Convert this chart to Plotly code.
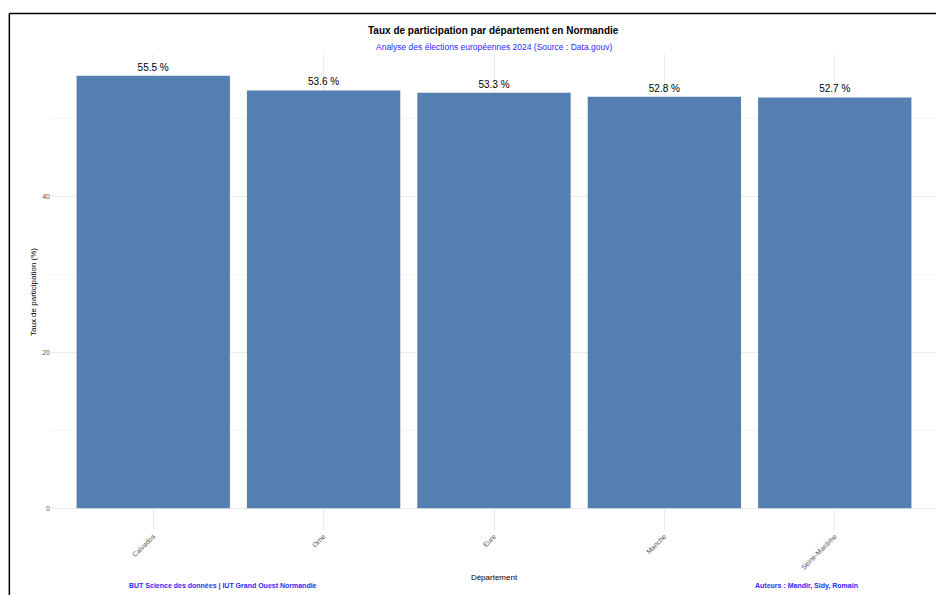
import plotly.graph_objects as go

# data
departements = ["Calvados", "Orne", "Eure", "Manche", "Seine-Maritime"]
taux = [55.5, 53.6, 53.3, 52.8, 52.7]

W, H = 944, 595
OFF = 8  # page body margin
# plot area in screen pixels
X0, X1, Y0, Y1 = 50.7, 937.5, 53.5, 529.6
L, R = X0 - OFF, W - (X1 - OFF)
T, B = Y0 - OFF, H - (Y1 - OFF)

def px_x(x):  # screen pixel -> paper x
    return (x - X0) / (X1 - X0)

def px_y(y):  # screen pixel -> paper y
    return (Y1 - y) / (Y1 - Y0)

FONT = "Liberation Sans, Arial, Helvetica, sans-serif"
BLUE = "#2a2aff"

fig = go.Figure()
fig.add_trace(go.Bar(
    x=departements, y=taux,
    width=0.9,
    marker=dict(color="#5480b1", line=dict(width=0)),
    text=[f"{v:.1f} %" for v in taux],
    textposition="outside",
    textfont=dict(size=10, color="black", family=FONT),
    cliponaxis=False,
))

fig.update_layout(
    width=W, height=H,
    margin=dict(l=L, r=R, t=T, b=B),
    plot_bgcolor="white", paper_bgcolor="white",
    font=dict(family=FONT),
    showlegend=False,
    bargap=0.1,
)

fig.update_xaxes(
    range=[-0.6, 4.6],
    tickangle=-45,
    tickfont=dict(size=7, color="#555555"),
    showgrid=True, gridcolor="#ebebeb", gridwidth=1,
    showline=False, zeroline=False, ticks="",
    title=dict(text="Département", font=dict(size=8, color="black"), standoff=4),
    automargin=False,
)
fig.update_yaxes(
    range=[-2.775, 58.275],
    tickvals=[0, 20, 40],
    tickfont=dict(size=7, color="#555555"),
    showgrid=True, gridcolor="#ebebeb", gridwidth=1,
    minor=dict(tickvals=[10, 30, 50], showgrid=True, gridcolor="#f4f4f4", gridwidth=1),
    zeroline=False, showline=False, ticks="",
    title=dict(text="Taux de participation (%)", font=dict(size=8, color="black"), standoff=4),
    automargin=False,
)

annotations = [
    dict(text="<b>Taux de participation par département en Normandie</b>",
         x=px_x(494), y=px_y(30), font=dict(size=10, color="black")),
    dict(text="Analyse des élections européennes 2024 (Source : Data.gouv)",
         x=px_x(494), y=px_y(46), font=dict(size=8.5, color=BLUE)),
    dict(text="<b>BUT Science des données | IUT Grand Ouest Normandie</b>",
         x=px_x(223), y=px_y(586), font=dict(size=7, color=BLUE)),
    dict(text="<b>Auteurs : Mandir, Sidy, Romain</b>",
         x=px_x(807), y=px_y(586), font=dict(size=7, color=BLUE)),
]
for a in annotations:
    fig.add_annotation(xref="paper", yref="paper", showarrow=False,
                       xanchor="center", yanchor="middle", **a)

# frame around the figure (top and left edges visible)
fig.add_shape(type="line", xref="paper", yref="paper",
              x0=px_x(9), x1=px_x(960), y0=px_y(13), y1=px_y(13),
              line=dict(color="black", width=1.5))
fig.add_shape(type="line", xref="paper", yref="paper",
              x0=px_x(9), x1=px_x(9), y0=px_y(13), y1=px_y(610),
              line=dict(color="black", width=1.5))

fig.write_html("out.html")
